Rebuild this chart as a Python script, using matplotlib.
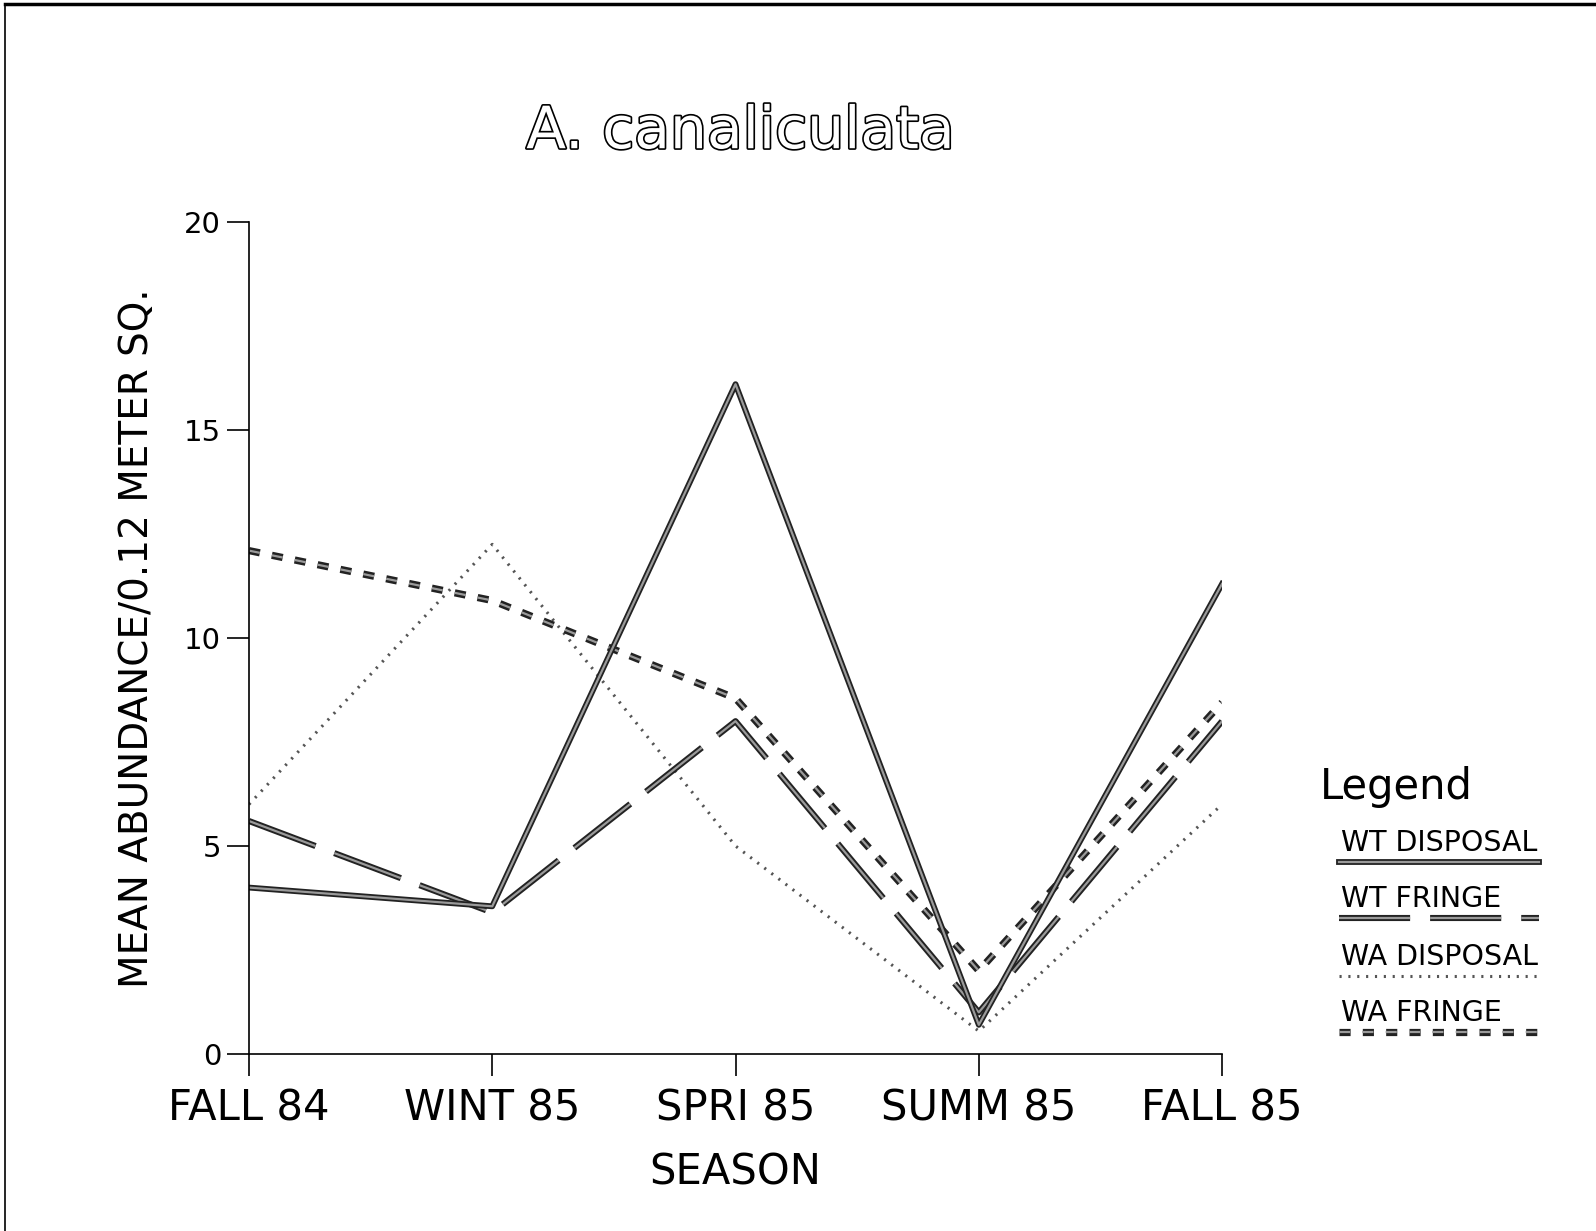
import matplotlib
matplotlib.use('Agg')
import matplotlib.pyplot as plt
import matplotlib.patheffects as pe
from matplotlib.lines import Line2D

# DATA
seasons = ['FALL 84', 'WINT 85', 'SPRI 85', 'SUMM 85', 'FALL 85']
wt_disposal = [4.0, 3.55, 16.1, 0.7, 11.3]
wt_fringe = [5.6, 3.4, 8.0, 1.0, 8.0]
wa_disposal = [6.0, 12.25, 5.0, 0.55, 6.0]
wa_fringe = [12.1, 10.9, 8.55, 2.0, 8.45]
series_names = ['WT DISPOSAL', 'WT FRINGE', 'WA DISPOSAL', 'WA FRINGE']

plt.rcParams['font.family'] = 'DejaVu Sans'

fig = plt.figure(figsize=(15.96, 12.31), dpi=100)
ax = fig.add_axes([0.156, 0.1438, 0.6097, 0.6759])

x = list(range(len(seasons)))

# outlined look like the plotter drawing: dark edge, grey middle
def outline(w):
    return [pe.Stroke(linewidth=w, foreground='#222222'), pe.Normal()]

styles = {
    'WT DISPOSAL': dict(ls='-', lw=1.6, color='#9a9a9a', path_effects=outline(4.2)),
    'WT FRINGE': dict(ls=(0, (32, 9)), lw=1.6, color='#9a9a9a', path_effects=outline(4.4)),
    'WA DISPOSAL': dict(ls=(0, (0.7, 2.2)), lw=2.2, color='#555555'),
    'WA FRINGE': dict(ls=(0, (5, 5.5)), lw=1.6, color='#9a9a9a', path_effects=outline(5.2)),
}

ax.plot(x, wa_disposal, **styles['WA DISPOSAL'])
ax.plot(x, wa_fringe, **styles['WA FRINGE'])
ax.plot(x, wt_fringe, **styles['WT FRINGE'])
ax.plot(x, wt_disposal, **styles['WT DISPOSAL'])

ax.set_xlim(0, 4)
ax.set_ylim(0, 20)
ax.set_xticks(x)
ax.set_xticklabels(seasons, fontsize=30)
ax.set_yticks([0, 5, 10, 15, 20])
ax.tick_params(axis='y', labelsize=21, length=16, width=1.2, direction='out', pad=4)
ax.tick_params(axis='x', length=16, width=1.2, direction='out', pad=8)
for s in ['top', 'right']:
    ax.spines[s].set_visible(False)
for s in ['left', 'bottom']:
    ax.spines[s].set_linewidth(1.2)

ax.set_xlabel('SEASON', fontsize=30, labelpad=16)
ax.set_ylabel('MEAN ABUNDANCE/0.12 METER SQ.', fontsize=28, labelpad=20)

# hollow title
fig.text(0.464, 0.893, 'A. canaliculata', fontsize=42, ha='center', va='center',
         color='white', path_effects=[pe.Stroke(linewidth=2.4, foreground='black'), pe.Normal()])

# legend drawn by hand: text above a sample line
fig.text(0.827, 0.361, 'Legend', fontsize=30, ha='left', va='center')
ys = [0.315, 0.270, 0.2225, 0.177]
for name, yy in zip(series_names, ys):
    fig.text(0.840, yy, name, fontsize=20.5, ha='left', va='center')
    st = dict(styles[name])
    fig.add_artist(Line2D([0.839, 0.964], [yy - 0.0155, yy - 0.0155], transform=fig.transFigure, **st))

# scanned page frame
fig.add_artist(Line2D([0.003, 1.0], [0.997, 0.997], transform=fig.transFigure, color='black', lw=2.5))
fig.add_artist(Line2D([0.003, 0.003], [0.0, 0.997], transform=fig.transFigure, color='black', lw=1.2))

fig.savefig('out.png', dpi=100)
